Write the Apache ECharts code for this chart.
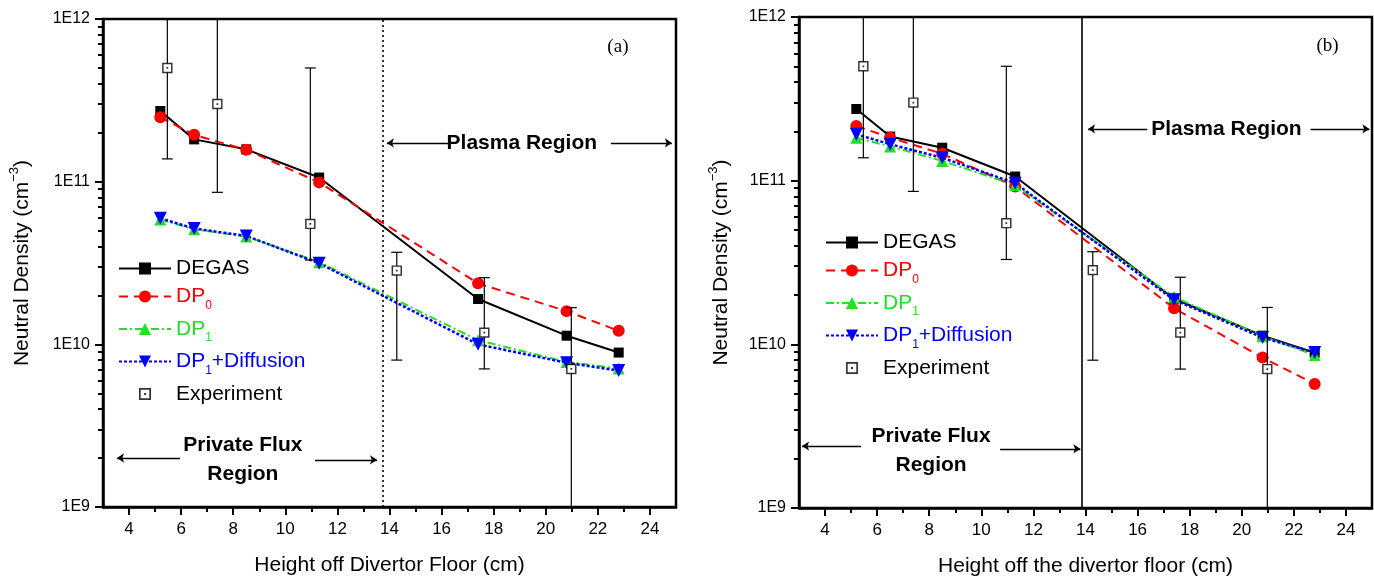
<!DOCTYPE html>
<html>
<head>
<meta charset="utf-8">
<script src="https://cdn.jsdelivr.net/npm/echarts@6/dist/echarts.min.js"></script>
<style>
  html, body { margin: 0; padding: 0; background: #fff; }
  #chart { width: 1374px; height: 584px; }
</style>
</head>
<body>
<div id="chart"></div>
<script>
// simulation heights (cm)
const simX = [5.2, 6.5, 8.5, 11.3, 17.4, 20.8, 22.8]

// panel (a)
const degasA = [2.72e11, 1.82e11, 1.58e11, 1.06e11, 1.9e10, 1.13e10, 8.9e9]
const dp0A = [2.49e11, 1.94e11, 1.57e11, 9.9e10, 2.37e10, 1.6e10, 1.21e10]
const dp1A = [5.85e10, 5.1e10, 4.6e10, 3.2e10, 1.06e10, 7.8e9, 7.1e9]
const dp1DiffA = [5.96e10, 5.15e10, 4.64e10, 3.15e10, 1.0e10, 7.7e9, 6.9e9]

// panel (b)
const degasB = [2.74e11, 1.86e11, 1.59e11, 1.06e11, 1.9e10, 1.13e10, 8.9e9]
const dp0B = [2.16e11, 1.83e11, 1.46e11, 9.2e10, 1.66e10, 8.3e9, 5.73e9]
const dp1B = [1.83e11, 1.62e11, 1.32e11, 9.4e10, 1.95e10, 1.12e10, 8.6e9]
const dp1DiffB = [1.92e11, 1.67e11, 1.38e11, 9.65e10, 1.87e10, 1.1e10, 8.9e9]

// experiment (same in both panels)
const expX = [5.47, 7.39, 10.96, 14.28, 17.64, 20.98]
const expY = [5.0e11, 3.0e11, 5.5e10, 2.84e10, 1.18e10, 7.06e9]
const expLow = [1.38e11, 8.6e10, 3.3e10, 8.0e9, 7.06e9, 5e8]
const expHigh = [2e12, 2e12, 5.0e11, 3.68e10, 2.57e10, 1.68e10]

// axes
const xTicks = [4, 6, 8, 10, 12, 14, 16, 18, 20, 22, 24]
const xMinorTicks = [5, 7, 9, 11, 13, 15, 17, 19, 21, 23]
const yTicks = [1e9, 1e10, 1e11, 1e12]
const yMinorTicks = []
for (const d of [1e9, 1e10, 1e11]) for (let m = 2; m <= 9; m++) yMinorTicks.push(m * d)

// region boundaries
const boundaryA = 13.75
const boundaryB = 13.84

const names = ['DEGAS', 'DP0', 'DP1', 'DP1+Diffusion', 'Experiment']
const RED = '#ff0000', GREEN = '#22e022', BLUE = '#0000ff'
const FONT = 'Liberation Sans, Arial, Helvetica, sans-serif'
const expSymbol = 'path://M0,0h0.05v0.05h-0.05z M15,15h-0.05v-0.05h0.05z M1.5,1.5H13.5V13.5H1.5Z M3.2,3.2V11.8H11.8V3.2Z M6.5,6.5H8.5V8.5H6.5Z'

const zip = (xs, ys) => xs.map((x, i) => [x, ys[i]])

const chart = echarts.init(document.getElementById('chart'))

const grids = [
  { left: 103, top: 19, width: 573, height: 488, show: true, borderColor: '#000', borderWidth: 2.5 },
  { left: 799, top: 17, width: 573, height: 491, show: true, borderColor: '#000', borderWidth: 2.5 }
]

function mainX (gi, title) {
  return {
    type: 'value', gridIndex: gi, min: 3, max: 25, position: 'bottom',
    name: title, nameLocation: 'middle', nameGap: 48,
    nameTextStyle: { fontSize: 21, color: '#000', fontFamily: FONT },
    axisLine: { lineStyle: { color: '#000', width: 2.5 } },
    axisTick: { customValues: xTicks, length: 8, lineStyle: { color: '#000', width: 2 } },
    axisLabel: { customValues: xTicks, fontSize: 17, color: '#000', margin: 14, fontFamily: FONT },
    splitLine: { show: false }
  }
}
function minorX (gi) {
  return {
    type: 'value', gridIndex: gi, min: 3, max: 25, position: 'bottom',
    axisLine: { show: false },
    axisTick: { customValues: xMinorTicks, length: 5, lineStyle: { color: '#000', width: 2 } },
    axisLabel: { show: false },
    splitLine: { show: false }
  }
}
function mainY (gi, gap) {
  return {
    type: 'log', logBase: 10, gridIndex: gi, min: 1e9, max: 1e12, position: 'left',
    name: '{a|Neutral Density (cm}{s|−3}{a|)}', nameLocation: 'middle', nameGap: gap,
    nameTextStyle: {
      rich: {
        a: { fontSize: 21, lineHeight: 28, color: '#000', fontFamily: FONT },
        s: { fontSize: 13, lineHeight: 13, verticalAlign: 'top', color: '#000', fontFamily: FONT }
      }
    },
    axisLine: { lineStyle: { color: '#000', width: 2.5 } },
    axisTick: { customValues: yTicks, length: 8, lineStyle: { color: '#000', width: 2 } },
    axisLabel: {
      customValues: yTicks, fontSize: 16, color: '#000', margin: 13, fontFamily: FONT,
      formatter: v => '1E' + Math.round(Math.log10(v))
    },
    splitLine: { show: false }
  }
}
function minorY (gi) {
  return {
    type: 'log', logBase: 10, gridIndex: gi, min: 1e9, max: 1e12, position: 'left',
    axisLine: { show: false },
    axisTick: { customValues: yMinorTicks, length: 5, lineStyle: { color: '#000', width: 2 } },
    axisLabel: { show: false },
    splitLine: { show: false }
  }
}

function simSeries (ai, degas, dp0, dp1, dp1d) {
  const base = { type: 'line', xAxisIndex: ai, yAxisIndex: ai, silent: true, z: 4 }
  return [
    Object.assign({}, base, {
      name: 'DEGAS', data: zip(simX, degas), symbol: 'rect', symbolSize: 10,
      itemStyle: { color: '#000' }, lineStyle: { color: '#000', width: 2 }
    }),
    Object.assign({}, base, {
      name: 'DP0', data: zip(simX, dp0), symbol: 'circle', symbolSize: 12,
      itemStyle: { color: RED }, lineStyle: { color: RED, width: 2, type: [9, 6] }
    }),
    Object.assign({}, base, {
      name: 'DP1', data: zip(simX, dp1), symbol: 'triangle', symbolSize: 12,
      itemStyle: { color: GREEN }, lineStyle: { color: GREEN, width: 2, type: [8, 3, 2, 3] }
    }),
    Object.assign({}, base, {
      name: 'DP1+Diffusion', data: zip(simX, dp1d), symbol: 'triangle', symbolRotate: 180, symbolSize: 13,
      itemStyle: { color: BLUE }, lineStyle: { color: BLUE, width: 2.5, type: [3, 2] }
    })
  ]
}

function expSeries (ai) {
  const data = expX.map((x, i) => [x, expY[i], expLow[i], expHigh[i]])
  return [
    {
      type: 'custom', xAxisIndex: ai, yAxisIndex: ai, silent: true, clip: true, z: 5,
      encode: { x: 0, y: 1 },
      data: data,
      renderItem: (params, api) => {
        const x = api.value(0)
        const p = api.coord([x, api.value(1)])
        const lo = api.coord([x, api.value(2)])
        const hi = api.coord([x, api.value(3)])
        const w = 5.5
        const st = { stroke: '#000', lineWidth: 1.2 }
        return {
          type: 'group',
          children: [
            { type: 'line', shape: { x1: p[0], y1: lo[1], x2: p[0], y2: hi[1] }, style: st },
            { type: 'line', shape: { x1: p[0] - w, y1: lo[1], x2: p[0] + w, y2: lo[1] }, style: st },
            { type: 'line', shape: { x1: p[0] - w, y1: hi[1], x2: p[0] + w, y2: hi[1] }, style: st },
            { type: 'rect', shape: { x: p[0] - 4.5, y: p[1] - 4.5, width: 9, height: 9 }, style: { fill: '#fff' } }
          ]
        }
      }
    },
    {
      name: 'Experiment', type: 'scatter', xAxisIndex: ai, yAxisIndex: ai, silent: true, z: 6,
      data: zip(expX, expY), symbol: expSymbol, symbolSize: 13,
      itemStyle: { color: '#000' }
    }
  ]
}

function annotations (ai, boundary, dotted, ann) {
  const lbl = (coord, text, opts) => ({
    coord: coord, symbol: 'circle', symbolSize: 1, itemStyle: { color: 'transparent' },
    label: Object.assign({ show: true, position: 'inside', formatter: text, color: '#000', fontFamily: FONT }, opts)
  })
  const bold = { fontSize: 21, fontWeight: 'bold', lineHeight: 29, align: 'center' }
  return {
    type: 'line', xAxisIndex: ai, yAxisIndex: ai, data: [], silent: true, z: 3,
    markLine: {
      silent: true, animation: false, label: { show: false }, emphasis: { disabled: true },
      data: [
        [{ coord: [boundary, 1e9], symbol: 'none', lineStyle: { color: '#000', width: 1.6, type: dotted ? [2, 3] : 'solid' } },
         { coord: [boundary, 1e12], symbol: 'none' }],
        ...ann.arrows.map(a => [
          { coord: [a[0], a[2]], symbol: 'none', lineStyle: { color: '#000', width: 1.4, type: 'solid' } },
          { coord: [a[1], a[2]], symbol: 'arrow', symbolSize: 7 }
        ])
      ]
    },
    markPoint: {
      silent: true, animation: false,
      data: [
        lbl(ann.plasma, 'Plasma Region', bold),
        lbl(ann.private, 'Private Flux\nRegion', bold),
        lbl(ann.tag, ann.tagText, { fontSize: 19, fontFamily: 'Liberation Serif, Times New Roman, serif' })
      ]
    }
  }
}

const annA = {
  plasma: [19.08, 1.73e11],
  private: [8.37, 1.95e9],
  tag: [22.77, 6.73e11], tagText: '(a)',
  arrows: [[16.32, 13.9, 1.73e11], [22.5, 24.84, 1.73e11], [5.96, 3.54, 2.0e9], [11.14, 13.52, 1.95e9]]
}
const annB = {
  plasma: [19.41, 2.07e11],
  private: [8.07, 2.25e9],
  tag: [23.29, 6.65e11], tagText: '(b)',
  arrows: [[16.37, 14.1, 2.07e11], [22.64, 24.9, 2.07e11], [5.38, 3.12, 2.39e9], [10.72, 13.8, 2.3e9]]
}

const legendRich = {}
const mk = (key, color, sub) => {
  legendRich[key] = sub
    ? { color: color, fontSize: 12, lineHeight: 14, verticalAlign: 'bottom', fontFamily: FONT }
    : { color: color, fontSize: 21, lineHeight: 30, fontFamily: FONT }
}
mk('k', '#000'); mk('r', RED); mk('g', GREEN); mk('b', BLUE)
mk('rs', RED, true); mk('gs', GREEN, true); mk('bs', BLUE, true)
const legendText = {
  'DEGAS': '{k|DEGAS}',
  'DP0': '{r|DP}{rs|0}',
  'DP1': '{g|DP}{gs|1}',
  'DP1+Diffusion': '{b|DP}{bs|1}{b|+Diffusion}',
  'Experiment': '{k|Experiment}'
}
function legend (left, top) {
  return {
    data: names.map(n => n === 'Experiment' ? { name: n, icon: expSymbol } : { name: n }),
    orient: 'vertical', left: left, top: top, padding: 0,
    itemWidth: 52, itemHeight: 15, itemGap: 7,
    selectedMode: false,
    formatter: n => legendText[n],
    textStyle: { rich: legendRich }
  }
}

chart.setOption({
  animation: false,
  textStyle: { fontFamily: FONT },
  grid: grids,
  xAxis: [mainX(0, 'Height off Divertor Floor (cm)'), minorX(0),
          mainX(1, 'Height off the divertor floor (cm)'), minorX(1)],
  yAxis: [mainY(0, 67), minorY(0), mainY(1, 64), minorY(1)],
  legend: [legend(118, 258), legend(825, 232)],
  series: [
    annotations(0, boundaryA, true, annA),
    ...simSeries(0, degasA, dp0A, dp1A, dp1DiffA),
    ...expSeries(0),
    annotations(2, boundaryB, false, annB),
    ...simSeries(2, degasB, dp0B, dp1B, dp1DiffB),
    ...expSeries(2)
  ]
})
</script>
</body>
</html>
